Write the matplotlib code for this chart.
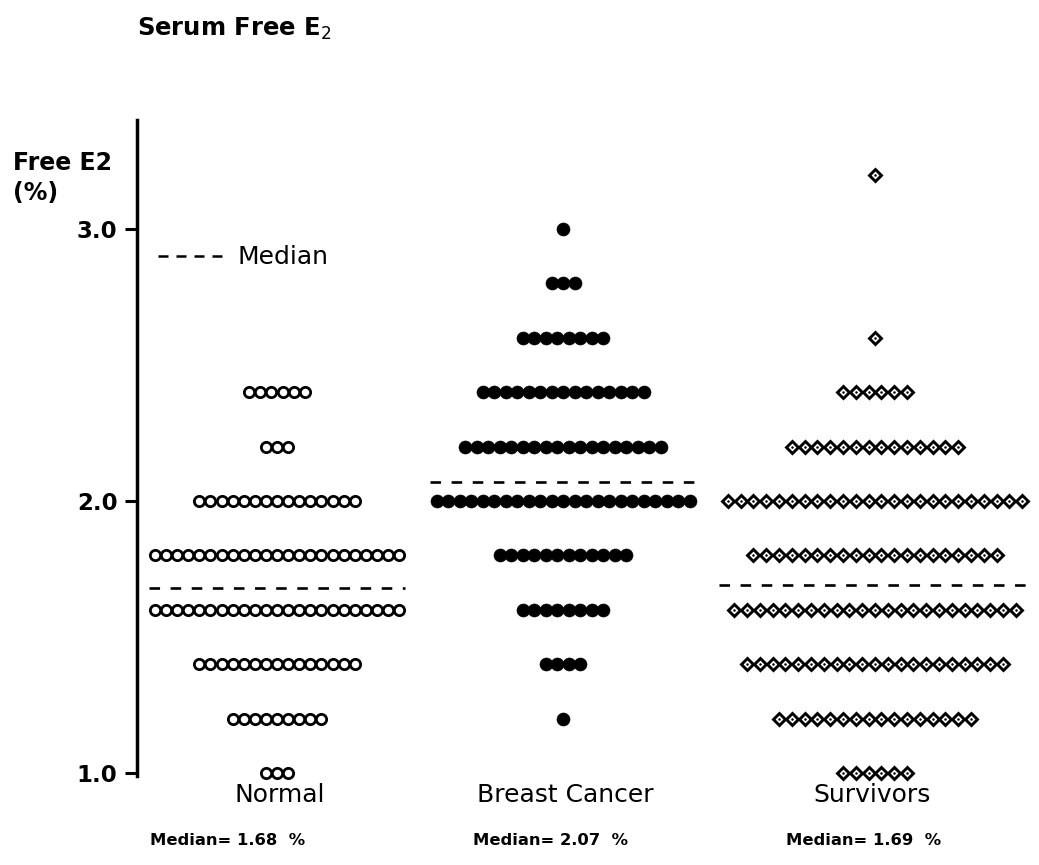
import matplotlib
matplotlib.use("Agg")
import matplotlib.pyplot as plt

# ---- data: free E2 (%) levels and number of subjects at each level ----
groups = ["Normal", "Breast Cancer", "Survivors"]

normal_levels = [1.0, 1.2, 1.4, 1.6, 1.8, 2.0, 2.2, 2.4]
normal_counts = [3, 9, 15, 23, 23, 15, 3, 6]

cancer_levels = [1.2, 1.4, 1.6, 1.8, 2.0, 2.2, 2.4, 2.6, 2.8, 3.0]
cancer_counts = [1, 4, 8, 12, 23, 18, 15, 8, 3, 1]

survivor_levels = [1.0, 1.2, 1.4, 1.6, 1.8, 2.0, 2.2, 2.4, 2.6, 3.2]
survivor_counts = [6, 16, 21, 23, 20, 24, 14, 6, 1, 1]

medians = [1.68, 2.07, 1.69]
median_labels = ["Median= 1.68  %", "Median= 2.07  %", "Median= 1.69  %"]

yticks = [1.0, 2.0, 3.0]
ytick_labels = ["1.0", "2.0", "3.0"]

# ---- figure geometry (pixel based) ----
W, H, DPI = 1039, 865, 100
fig = plt.figure(figsize=(W / DPI, H / DPI), dpi=DPI)
fig.patch.set_facecolor("white")

AX_LEFT = 137
y_px_1, y_px_3 = 773.0, 229.0           # pixel rows of 1.0 and 3.0
unit = (y_px_1 - y_px_3) / 2.0
ymin = 1.0 - (H - y_px_1) / unit
ymax = 1.0 + y_px_1 / unit

ax = fig.add_axes([AX_LEFT / W, 0, (W - AX_LEFT) / W, 1])
ax.set_xlim(0, W - AX_LEFT)
ax.set_ylim(ymin, ymax)
ax.set_facecolor("none")
for s in ["top", "right", "bottom"]:
    ax.spines[s].set_visible(False)
ax.spines["left"].set_linewidth(2.5)
ax.spines["left"].set_bounds(0.99, 3.40)
ax.set_xticks([])
ax.set_yticks(yticks)
ax.set_yticklabels(ytick_labels, fontsize=16.5, fontweight="bold",
                   family="DejaVu Sans")
ax.tick_params(axis="y", direction="out", length=9, width=2.2, pad=5)

# group layout: centre (axis px), marker spacing, median half width
centres = [140, 426, 738]
spacing = [11.1, 11.5, 12.8]
line_half = [128, 133, 156]


def row_x(centre, n, step):
    return [centre + (i - (n - 1) / 2.0) * step for i in range(n)]


def scatter_rows(levels, counts, centre, step, **style):
    xs, ys = [], []
    for lv, n in zip(levels, counts):
        xs += row_x(centre, n, step)
        ys += [lv] * n
    ax.plot(xs, ys, linestyle="none", clip_on=False, **style)
    return xs, ys


# Normal: open circles
scatter_rows(normal_levels, normal_counts, centres[0], spacing[0],
             marker="o", ms=7.4, mfc="white", mec="black", mew=2.0)

# Breast cancer: filled circles
scatter_rows(cancer_levels, cancer_counts, centres[1], spacing[1],
             marker="o", ms=9.4, mfc="black", mec="black", mew=0.4)

# Survivors: open diamonds with a centre dot
sx, sy = scatter_rows(survivor_levels, survivor_counts, centres[2], spacing[2],
                      marker="D", ms=5.8, mfc="white", mec="black", mew=2.1)
ax.plot(sx, sy, linestyle="none", marker="o", ms=1.8, mfc="black",
        mec="black", mew=0, clip_on=False)

# median lines
for c, hw, m in zip(centres, line_half, medians):
    ax.plot([c - hw, c + hw], [m, m], color="black", lw=1.9,
            linestyle=(0, (4, 4.0)), solid_capstyle="butt")

# legend sample
ax.plot([158 - AX_LEFT, 222 - AX_LEFT], [2.90, 2.90], color="black", lw=1.8,
        linestyle=(0, (4.0, 3.2)))


def fx(x):
    return x / W


def fy(y):
    return 1 - y / H


fig.text(fx(237), fy(257), "Median", fontsize=18, va="center",
         ha="left", family="DejaVu Sans")

# titles and axis caption
fig.text(fx(137), fy(36), "Serum Free E$_2$", fontsize=17.5,
         fontweight="bold", va="baseline", ha="left", family="DejaVu Sans")
fig.text(fx(13), fy(170), "Free E2", fontsize=17, fontweight="bold",
         va="baseline", ha="left", family="DejaVu Sans")
fig.text(fx(13), fy(200), "(%)", fontsize=17, fontweight="bold",
         va="baseline", ha="left", family="DejaVu Sans")

# group names and median notes
name_x = [280, 565, 872]
note_x = [150, 473, 786]
for gname, nx, tx, lab in zip(groups, name_x, note_x, median_labels):
    fig.text(fx(nx), fy(802), gname, fontsize=18, ha="center",
             va="baseline", family="DejaVu Sans")
    fig.text(fx(tx), fy(845), lab, fontsize=11.8, ha="left",
             va="baseline", family="DejaVu Sans", fontweight="bold")

fig.savefig("out.png", dpi=DPI, facecolor="white")
